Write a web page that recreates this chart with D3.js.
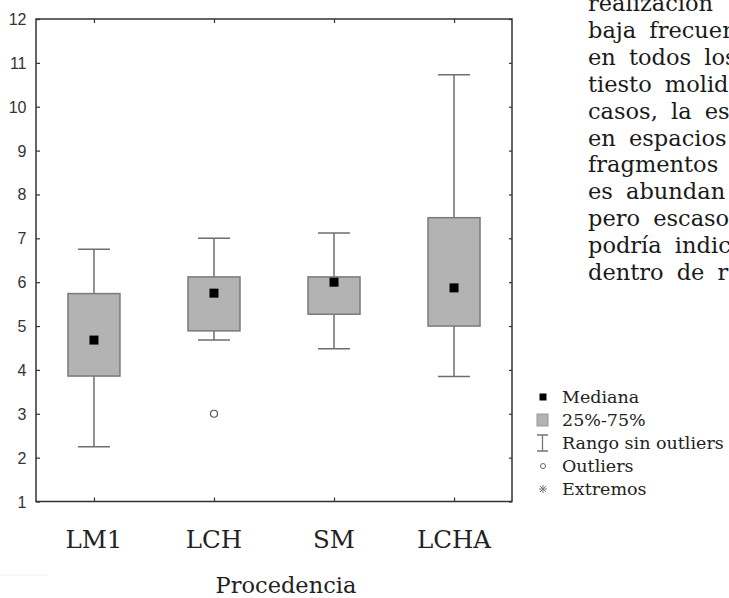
<!DOCTYPE html>
<html>
<head>
<meta charset="utf-8">
<script src="https://cdn.jsdelivr.net/npm/d3@7"></script>
<style>
  body { margin: 0; background: #fff; overflow: hidden; }
  svg { display: block; }
</style>
</head>
<body>
<div id="chart"></div>
<script>
// box plot values
const categories = ["LM1", "LCH", "SM", "LCHA"];
const medians = [4.68, 5.75, 6.0, 5.87];
const q1 = [3.86, 4.89, 5.27, 5.0];
const q3 = [5.74, 6.12, 6.12, 7.47];
const whiskerLow = [2.25, 4.68, 4.48, 3.85];
const whiskerHigh = [6.75, 7.0, 7.12, 10.73];
const outlierCats = ["LCH"];
const outlierValues = [3.0];
const yTicks = [1, 2, 3, 4, 5, 6, 7, 8, 9, 10, 11, 12];

const legendLabels = ["Mediana", "25%-75%", "Rango sin outliers", "Outliers", "Extremos"];
const xTitle = "Procedencia";

// surrounding page text, cut at the picture edge
const bodyLines = ["realización", "baja frecuenc", "en todos los", "tiesto molid",
  "casos, la es", "en espacios", "fragmentos", "es abundan", "pero escaso",
  "podría indic", "dentro de r"];

const W = 729, H = 598;
const plotL = 36, plotR = 512, plotT = 19, plotB = 501.5;
const serif = "'DejaVu Serif', serif";
const sans = "'Liberation Sans', Arial, sans-serif";

const svg = d3.select("#chart").append("svg")
  .attr("width", W).attr("height", H);

const x = d3.scalePoint().domain(categories).range([plotL, plotR]).padding(0.483);
const y = d3.scaleLinear().domain([1, 12]).range([plotB, plotT]);

const boxW = 52, capW = 32, medS = 9;
const axisCol = "#333", boxEdge = "#7a7a7a", whiskCol = "#6e6e6e";

// frame
svg.append("rect")
  .attr("x", plotL).attr("y", plotT)
  .attr("width", plotR - plotL).attr("height", plotB - plotT)
  .attr("fill", "none").attr("stroke", axisCol).attr("stroke-width", 1.5);

// inward ticks on all four sides
const gl = svg.append("g").attr("transform", `translate(${plotL},0)`)
  .call(d3.axisRight(y).tickValues(yTicks).tickSize(4).tickFormat(""));
const gr = svg.append("g").attr("transform", `translate(${plotR},0)`)
  .call(d3.axisLeft(y).tickValues(yTicks).tickSize(3).tickFormat(""));
const gb = svg.append("g").attr("transform", `translate(0,${plotB})`)
  .call(d3.axisTop(x).tickSize(4).tickFormat(""));
const gt = svg.append("g").attr("transform", `translate(0,${plotT})`)
  .call(d3.axisBottom(x).tickSize(4).tickFormat(""));
[gl, gr, gb, gt].forEach(g => {
  g.select(".domain").remove();
  g.selectAll("line").attr("stroke", axisCol).attr("stroke-width", 1.2);
});

// y labels
svg.append("g").selectAll("text").data(yTicks).enter().append("text")
  .attr("x", 26.5).attr("y", d => y(d) + 6)
  .attr("text-anchor", "end")
  .style("font-family", sans).style("font-size", "16px")
  .attr("fill", "#333")
  .text(d => d);

// x labels
svg.append("g").selectAll("text").data(categories).enter().append("text")
  .attr("x", d => x(d)).attr("y", 548)
  .attr("text-anchor", "middle")
  .style("font-family", serif).style("font-size", "24.5px")
  .attr("fill", "#222")
  .text(d => d);

svg.append("text")
  .attr("x", 286).attr("y", 593)
  .attr("text-anchor", "middle")
  .style("font-family", serif).style("font-size", "22.5px")
  .attr("fill", "#222")
  .text(xTitle);

// boxes
const boxes = svg.append("g").selectAll("g").data(categories).enter().append("g");

boxes.append("line")
  .attr("x1", d => x(d)).attr("x2", d => x(d))
  .attr("y1", (d, i) => y(whiskerHigh[i])).attr("y2", (d, i) => y(q3[i]))
  .attr("stroke", whiskCol).attr("stroke-width", 1.5);
boxes.append("line")
  .attr("x1", d => x(d)).attr("x2", d => x(d))
  .attr("y1", (d, i) => y(q1[i])).attr("y2", (d, i) => y(whiskerLow[i]))
  .attr("stroke", whiskCol).attr("stroke-width", 1.5);
boxes.append("line")
  .attr("x1", d => x(d) - capW / 2).attr("x2", d => x(d) + capW / 2)
  .attr("y1", (d, i) => y(whiskerHigh[i])).attr("y2", (d, i) => y(whiskerHigh[i]))
  .attr("stroke", whiskCol).attr("stroke-width", 1.5);
boxes.append("line")
  .attr("x1", d => x(d) - capW / 2).attr("x2", d => x(d) + capW / 2)
  .attr("y1", (d, i) => y(whiskerLow[i])).attr("y2", (d, i) => y(whiskerLow[i]))
  .attr("stroke", whiskCol).attr("stroke-width", 1.5);

boxes.append("rect")
  .attr("x", d => x(d) - boxW / 2).attr("width", boxW)
  .attr("y", (d, i) => y(q3[i])).attr("height", (d, i) => y(q1[i]) - y(q3[i]))
  .attr("fill", "#b3b3b3").attr("stroke", boxEdge).attr("stroke-width", 1.5);

boxes.append("rect")
  .attr("x", d => x(d) - medS / 2).attr("width", medS)
  .attr("y", (d, i) => y(medians[i]) - medS / 2).attr("height", medS)
  .attr("fill", "#000");

// outliers
svg.append("g").selectAll("circle").data(outlierCats).enter().append("circle")
  .attr("cx", d => x(d)).attr("cy", (d, i) => y(outlierValues[i]))
  .attr("r", 3.5)
  .attr("fill", "#fff").attr("stroke", "#555").attr("stroke-width", 1.2);

// legend
const lg = svg.append("g").attr("transform", "translate(543,397)");
const step = 23;
const items = lg.selectAll("g").data(legendLabels).enter().append("g")
  .attr("transform", (d, i) => `translate(0,${i * step})`);
items.append("text")
  .attr("x", 19).attr("y", 6)
  .style("font-family", serif).style("font-size", "17.5px")
  .attr("fill", "#222")
  .text(d => d);

const sym = items.nodes().map(n => d3.select(n));
sym[0].append("rect").attr("x", -3.5).attr("y", -3.5).attr("width", 7).attr("height", 7).attr("fill", "#000");
sym[1].append("rect").attr("x", -6).attr("y", -6).attr("width", 11).attr("height", 12)
  .attr("fill", "#b3b3b3").attr("stroke", "#999").attr("stroke-width", 1);
sym[2].append("path").attr("d", "M-6,-8H5M-6,8H5M-0.5,-8V8")
  .attr("stroke", "#777").attr("stroke-width", 1.3).attr("fill", "none");
sym[3].append("circle").attr("r", 2.5).attr("fill", "#fff").attr("stroke", "#666").attr("stroke-width", 1);
sym[4].append("path").attr("d", "M-4,0H4M0,-4V4M-3,-3L3,3M-3,3L3,-3")
  .attr("stroke", "#777").attr("stroke-width", 1).attr("fill", "none");

// page text to the right (justified column, cut by the picture edge)
svg.append("g").selectAll("text").data(bodyLines).enter().append("text")
  .attr("x", 588).attr("y", (d, i) => 11 + i * 26.9)
  .style("font-family", serif).style("font-size", "22.5px")
  .style("word-spacing", "6px")
  .attr("fill", "#1a1a1a")
  .text(d => d);

// faint scan edge bottom-left
svg.append("line").attr("x1", 0).attr("x2", 48).attr("y1", 575).attr("y2", 575)
  .attr("stroke", "#eee").attr("stroke-width", 1);
</script>
</body>
</html>
